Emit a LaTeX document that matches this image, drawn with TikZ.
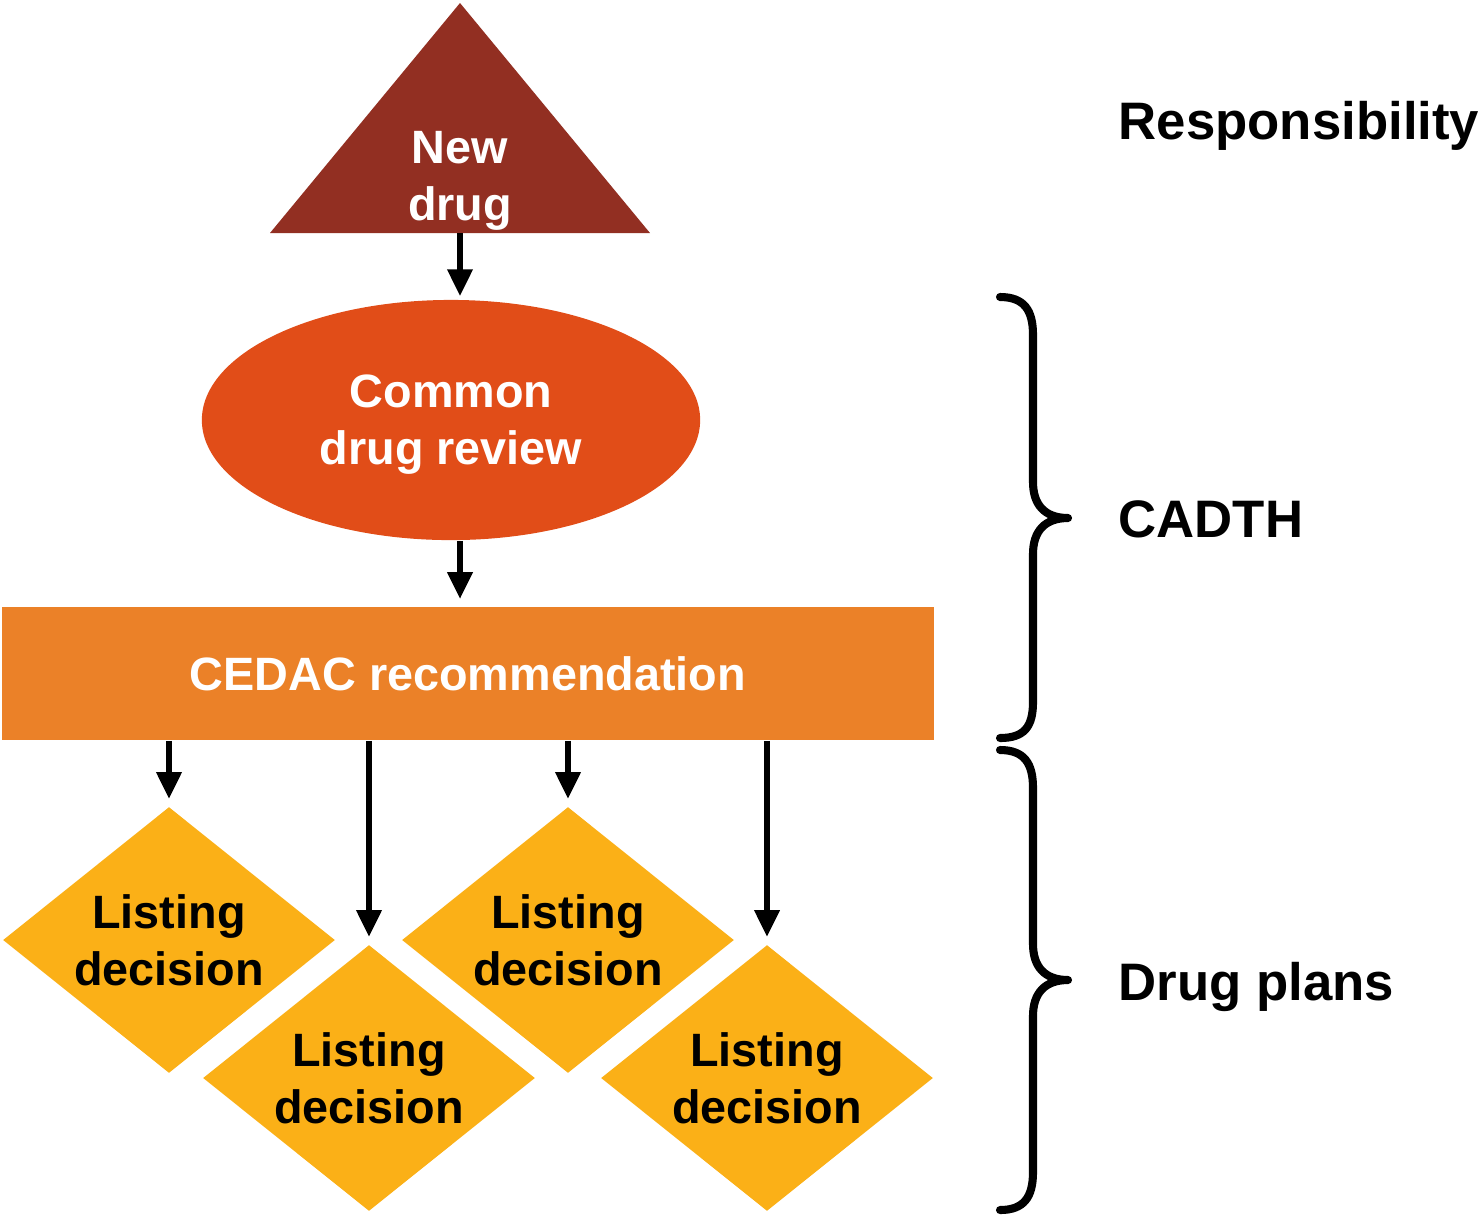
\documentclass[tikz,border=0pt]{standalone}
\usepackage{fontspec}
\setmainfont{Liberation Sans}
\usetikzlibrary{shapes.geometric,arrows.meta,positioning}
\definecolor{drugred}{HTML}{922F22}
\definecolor{reviewred}{HTML}{E14D18}
\definecolor{cedacorange}{HTML}{EB8128}
\definecolor{listyellow}{HTML}{FBB017}
\tikzset{
  flowarrow/.style={-{Triangle[width=6.8pt,length=7.7pt]},line width=1.9pt},
  boxtext/.style={align=center,font=\fontsize{13.3}{16.2}\selectfont\bfseries},
  listing/.style={boxtext,diamond,aspect=1.25,fill=listyellow,minimum width=3.32cm,minimum height=2.66cm,inner sep=0pt},
  bracepath/.style={line width=2.3pt,line cap=round,line join=round},
  sidelabel/.style={anchor=base west,inner sep=0pt,font=\fontsize{15}{18}\selectfont\bfseries}
}
\begin{document}
\begin{tikzpicture}[x=0.01cm,y=-0.01cm]
    \useasboundingbox (0,0) rectangle (1479,1214);

    % New drug
    \fill[drugred] (270,233) -- (460,3) -- (650,233) -- cycle;
    \coordinate (nd-base) at (460,233);
    \node[boxtext,text=white] (newdrug) at (460,181) {New\\drug};

    \node[boxtext,ellipse,fill=reviewred,text=white,text depth=0pt,minimum width=4.98cm,minimum height=2.40cm,inner sep=0pt] (cdr) at (451,420) {Common\\drug review};
    \node[boxtext,fill=cedacorange,text=white,minimum width=9.32cm,minimum height=1.33cm,inner sep=0pt] (cedac) at (468,673.5) {CEDAC recommendation};

    \node[listing] (ld1) at (169,940) {Listing\\decision};
    \node[listing] (ld2) at (369,1078) {Listing\\decision};
    \node[listing] (ld3) at (568,940) {Listing\\decision};
    \node[listing] (ld4) at (767,1078) {Listing\\decision};

    \draw[flowarrow,shorten >=0.8pt] (nd-base) -- (nd-base |- cdr.north);
    \draw[flowarrow,shorten >=2pt] (nd-base |- cdr.south) -- (nd-base |- cedac.north);
    \foreach \d in {ld1,ld2,ld3,ld4}
        \draw[flowarrow,shorten >=2pt] (cedac.south -| \d.north) -- (\d.north);

    % braces
    \draw[bracepath] (1000,297) .. controls (1024,297) and (1033,310) .. (1033,335) -- (1033,482)
        .. controls (1033,505) and (1045,518) .. (1068,518)
        .. controls (1045,518) and (1033,531) .. (1033,554) -- (1033,702)
        .. controls (1033,727) and (1024,738) .. (1000,738);
    \draw[bracepath] (1000,750) .. controls (1024,750) and (1033,763) .. (1033,788) -- (1033,944)
        .. controls (1033,967) and (1045,980) .. (1068,980)
        .. controls (1045,980) and (1033,993) .. (1033,1016) -- (1033,1172)
        .. controls (1033,1197) and (1024,1210) .. (1000,1210);

    \node[sidelabel] (resp) at (1118,139) {Responsibility};
    \node[sidelabel] (cadth) at (1118,537) {CADTH};
    \node[sidelabel] (plans) at (1118,1000) {Drug plans};
\end{tikzpicture}
\end{document}
